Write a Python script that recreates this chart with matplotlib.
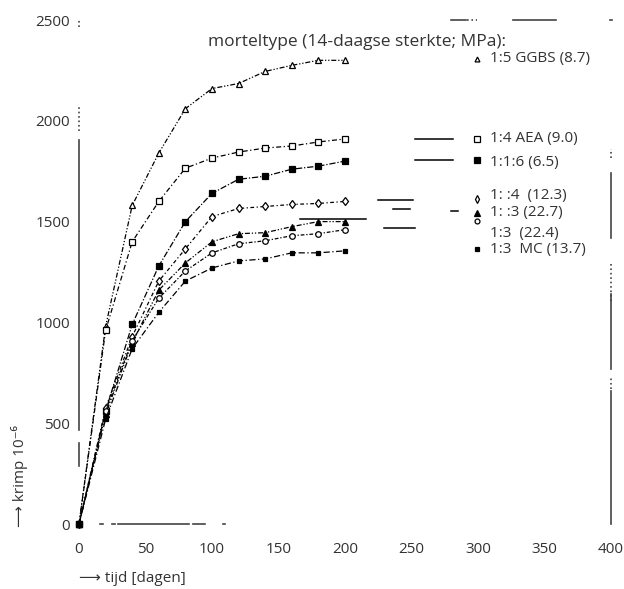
import numpy as np
import matplotlib.pyplot as plt

plt.rcParams['font.family'] = ['Open Sans', 'DejaVu Sans']
plt.rcParams['text.color'] = '#333333'

# tijd in dagen
dagen = [0, 20, 40, 60, 80, 100, 120, 140, 160, 180, 200]

# krimp (10^-6) per mortelsoort
ggbs_15 = [0, 980, 1580, 1840, 2060, 2160, 2185, 2245, 2275, 2300, 2300]
aea_14 = [0, 960, 1400, 1600, 1765, 1815, 1845, 1865, 1875, 1895, 1910]
m_116 = [0, 560, 990, 1280, 1500, 1640, 1710, 1725, 1760, 1775, 1800]
m_14 = [0, 575, 930, 1205, 1365, 1525, 1565, 1575, 1585, 1590, 1600]
m_13a = [0, 545, 900, 1160, 1295, 1400, 1440, 1445, 1475, 1500, 1500]
m_13b = [0, 560, 910, 1120, 1255, 1345, 1390, 1405, 1430, 1440, 1460]
mc_13 = [0, 520, 870, 1050, 1205, 1270, 1305, 1315, 1345, 1345, 1355]

labels = ["1:5 GGBS (8.7)", "1:4 AEA (9.0)", "1:1:6 (6.5)", "1: :4  (12.3)",
          "1: :3 (22.7)", "1:3  (22.4)", "1:3  MC (13.7)"]
label_y = [2307, 1912, 1794, 1630, 1546, 1443, 1364]
marker_y = [2307, 1912, 1808, 1611, 1541, 1502, 1364]

series = [ggbs_15, aea_14, m_116, m_14, m_13a, m_13b, mc_13]
# marker, size, filled, dash pattern
stijl = [
    ('^', 4, False, (4, 1.5, 1, 1.5, 1, 1.5)),
    ('s', 4.5, False, (4, 2, 1, 2)),
    ('s', 5, True, (5, 1.5, 1, 1.5)),
    ('d', 4.5, False, (3, 2, 1, 2)),
    ('^', 4.5, True, (4, 1.5, 1, 1.5, 1, 1.5)),
    ('o', 4, False, (3, 1.5, 1, 1.5)),
    ('s', 3.5, True, (5, 2, 1, 2)),
]

fig = plt.figure(figsize=(6.24, 5.89), dpi=100)
ax = fig.add_axes([79 / 624, 65 / 589, 532 / 624, 504 / 589])

for ys, (m, ms, filled, dash) in zip(series, stijl):
    ax.plot(dagen, ys, color='black', lw=0.9, dashes=dash,
            marker=m, markersize=ms, markeredgewidth=0.9,
            markerfacecolor='black' if filled else 'white',
            markeredgecolor='black', clip_on=False)

# legenda
for lab, ty, my, (m, ms, filled, dash) in zip(labels, label_y, marker_y, stijl):
    ax.plot([299], [my], marker=m, markersize=ms - 0.5, markeredgewidth=0.9,
            markerfacecolor='black' if filled else 'white',
            markeredgecolor='black', clip_on=False)
    ax.text(309, ty, lab, fontsize=11, va='center', ha='left')

ax.text(209, 2391, "morteltype (14-daagse sterkte; MPa):", fontsize=12.5,
        ha='center', va='center')

# resten van legenda-lijnen en kader (gescande afbeelding)
legend_lijnen = [((253, 281), 1912), ((253, 281), 1808), ((225, 251), 1606),
                 ((236, 249), 1561), ((229, 253), 1467), ((280, 285), 1551),
                 ((166, 216), 1512)]
for (x0, x1), yy in legend_lijnen:
    ax.plot([x0, x1], [yy, yy], color='black', lw=1.1, clip_on=False)

kader_links = [(2465, 2500, ':'), (1947, 2070, ':'), (464, 1907, '-'), (290, 400, '-')]
kader_rechts = [(1813, 1862, ':'), (1418, 1739, '-'), (1107, 1290, ':'),
                (770, 1141, '-'), (672, 736, ':'), (0, 662, '-')]
kader_onder = [(16, 18, '-'), (25, 27, '-'), (29, 83, '-'), (86, 95, '-'), (108, 110, '-')]
kader_boven = [(280, 291, '-'), (292, 299, ':'), (326, 359, '-'), (399, 401, '-')]

for y0, y1, ls in kader_links:
    ax.plot([0, 0], [y0, y1], color='#444444', lw=1.2, ls=ls, clip_on=False)
for y0, y1, ls in kader_rechts:
    ax.plot([400, 400], [y0, y1], color='#444444', lw=1.2, ls=ls, clip_on=False)
for x0, x1, ls in kader_onder:
    ax.plot([x0, x1], [0, 0], color='#444444', lw=1.2, ls=ls, clip_on=False)
for x0, x1, ls in kader_boven:
    ax.plot([x0, x1], [2500, 2500], color='#444444', lw=1.2, ls=ls, clip_on=False)

ax.set_xlim(0, 400)
ax.set_ylim(0, 2500)
ax.set_xticks(np.arange(0, 401, 50))
ax.set_yticks(np.arange(0, 2501, 500))
for s in ax.spines.values():
    s.set_visible(False)
ax.tick_params(axis='x', length=0, pad=13, labelsize=11, labelcolor='#333333')
ax.tick_params(axis='y', length=0, pad=6.5, labelsize=11, labelcolor='#333333')

fig.text(20 / 624, 1 - 527 / 589, "⟶ krimp 10⁻⁶", rotation=90, fontsize=11,
         ha='center', va='bottom')
fig.text(79 / 624, 1 - 578 / 589, "⟶ tijd [dagen]", fontsize=11,
         ha='left', va='center')

fig.savefig('out.png', dpi=100)
